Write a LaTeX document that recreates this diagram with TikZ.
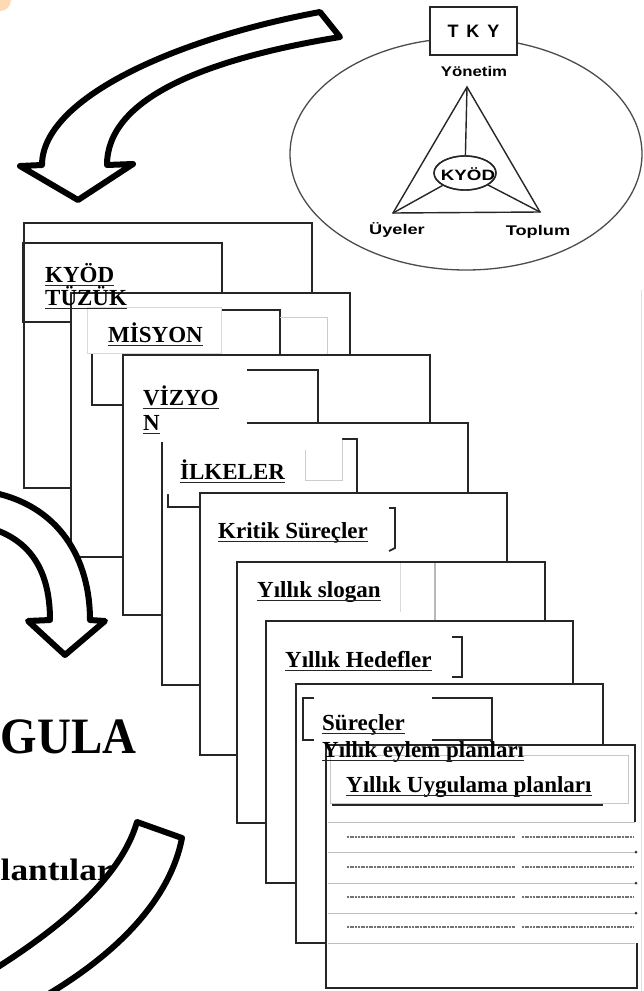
\documentclass[tikz,border=0pt]{standalone}
\usepackage{fontspec}
\setmainfont{Liberation Serif}
\newfontfamily\lsans{Liberation Sans}
\usepackage{graphicx}
\usetikzlibrary{shapes.geometric}

\tikzset{
  card/.style={fill=white, draw=black!85, line width=1.8pt},
  inbox/.style={draw=black!85, line width=1.8pt},
  wboxb/.style={fill=white, draw=gray!30, line width=0.8pt},
  faint/.style={draw=gray!40, line width=1pt},
  ttl/.style={inner sep=0pt, anchor=base west, font=\fontsize{23}{25}\selectfont\bfseries},
  ulin/.style={line width=1.5pt, black!85},
  bigarrow/.style={draw=black, fill=white, line width=6pt, line join=round},
  lbl/.style={inner sep=0pt, font=\fontsize{14}{16}\selectfont\lsans\bfseries},
  thin/.style={draw=black!85, line width=1.4pt},
  squig/.style={black!55, line width=2pt, dash pattern=on 2pt off 0.7pt},
}

\newcommand\ttlnode[3]{\node[ttl] (#1) at (#2) {#3};
  \draw[ulin] ([yshift=-3.5pt]#1.base west) -- ([yshift=-3.5pt]#1.base east);}

\begin{document}
\begin{tikzpicture}[x=1pt,y=-1pt]
\useasboundingbox (0,0) rectangle (644,991);
\fill[white] (0,0) rectangle (644,991);
\fill[orange!30] (0,0) circle (11pt);
\draw[gray!25, line width=1pt] (641,290) -- (641,991);

% ---------- TKY ellipse with triangle ----------
\draw[black!70, line width=1.3pt] (466,154) ellipse [x radius=176pt, y radius=116pt];
\node[draw=black!85, fill=white, line width=1.5pt, minimum width=87pt, minimum height=48pt, inner sep=0pt] (tky) at (473.5,31)
  {\fontsize{18}{18}\selectfont\lsans\bfseries T\hspace{8pt}K\hspace{8pt}Y};
\coordinate (yon) at (467,87);
\coordinate (uye) at (393,213);
\coordinate (top) at (540,212);
\node[lbl] (yonl) at (474,71) {\scalebox{1.2}[1]{Yönetim}};
\node[lbl] (uyel) at (397,230) {\scalebox{1.3}[1]{Üyeler}};
\node[lbl] (topl) at (538,232) {\scalebox{1.3}[1]{Toplum}};
\draw[thin] (yon) -- (uye) -- (top) -- cycle;
\node[ellipse, draw=black!85, fill=white, line width=1.4pt, minimum width=62pt, minimum height=34pt, inner sep=0pt] (kyod) at (465,173) {};
\begin{scope}
  \clip (465,173) ellipse [x radius=31pt, y radius=17pt];
  \node[lbl, font=\fontsize{15}{16}\selectfont\lsans\bfseries] (kyodt) at (468,174) {\scalebox{1.25}[1]{KYÖD}};
\end{scope}
\draw[thin] (kyod) ellipse [x radius=31pt, y radius=17pt];
\draw[thin] (yon) -- (kyod);
\draw[thin] (kyod) -- (uye);
\draw[thin] (kyod) -- (top);

% ---------- cards ----------
% card 1
\draw[card] (24,223) rectangle (312,488);
\draw[inbox] (23,243) rectangle (222,322);
% card 2
\draw[card] (71,293) rectangle (350,557);
\draw[inbox] (92,310) rectangle (280,405);
\draw[faint] (280,317) -- (327,317) -- (327,355);
\path[wboxb] (87,307) rectangle (221,353);
% card 3
\draw[card] (123,355) rectangle (430,615);
\draw[inbox] (135,370) rectangle (318,430);
% card 4
\draw[card] (162,423) rectangle (468,685);
\fill[white] (124.5,366) rectangle (247,442);
\draw[inbox] (168,439) rectangle (357,507);
\fill[white] (166,434) -- (342,434) -- (342,480) -- (305,480) -- (305,494) -- (166,494) -- cycle;
\draw[faint] (305,450) -- (305,480) -- (342,480) -- (342,440);
% card 5
\draw[card] (200,493) rectangle (507,755);
\draw[inbox] (389,508) -- (395,508) -- (395,548) -- (389,551);
% card 6
\draw[card] (237,562) rectangle (545,823);
\draw[gray!55, line width=1.3pt] (435,563) -- (435,621);
\draw[gray!30, line width=1pt] (400,563) -- (400,612);
% card 7
\draw[card] (266,621) rectangle (573,883);
\draw[inbox] (452,637) -- (462,637) -- (462,677) -- (452,677);
% card 8
\draw[card] (296,684) rectangle (603,943);
\draw[inbox] (303,698) rectangle (492,740);
\fill[white] (313.5,690) rectangle (432,743);
% card 9
\fill[white] (326,745) rectangle (636,988);
\draw[black!85, line width=1.8pt] (635,822) -- (635,745) -- (326,745) -- (326,988) -- (637,988) -- (637,943);
\draw[gray!45, line width=1pt] (330,755) rectangle (628,803);
\draw[black!85, line width=2.2pt] (332,805) -- (603,805);
\foreach \yy in {822,852,883,913,943} {\draw[gray!50, line width=1pt] (328,\yy) -- (635,\yy);}
\foreach \yy in {837,867,897,927} {
  \draw[squig] (347,\yy) -- (515,\yy);
  \draw[squig] (522,\yy) -- (633,\yy);}
\foreach \yy in {852,883,913} {\fill[black!80] (636,\yy) circle (1.5pt);}

% ---------- titles ----------
\ttlnode{t1}{45,282}{KYÖD}
\ttlnode{t2}{45,305}{TÜZÜK}
\ttlnode{t3}{108,342}{MİSYON}
\ttlnode{t4}{143,405}{VİZYO}
\ttlnode{t5}{143,430}{N}
\ttlnode{t6}{180,479}{İLKELER}
\ttlnode{t7}{218,538}{Kritik Süreçler}
\ttlnode{t8}{257,597}{Yıllık slogan}
\ttlnode{t9}{285,667}{Yıllık Hedefler}
\ttlnode{t10}{322,730}{Süreçler}
\ttlnode{t11}{322,757}{Yıllık eylem planları}
\ttlnode{t12}{346,792}{Yıllık Uygulama planları}

% ---------- left texts ----------
\node[inner sep=0pt, anchor=base west, font=\fontsize{51}{51}\selectfont\bfseries] (gula) at (0.5,753) {\scalebox{0.92}[1]{GULA}};
\node[inner sep=0pt, anchor=base west, font=\fontsize{31}{31}\selectfont\bfseries] (lant) at (0.5,880) {\scalebox{1.14}[1]{lantılar}};

% ---------- big arrows ----------
\draw[bigarrow] (320,12) .. controls (170,40) and (42,100) .. (42,165) -- (20,166) -- (78,200) -- (133,164) -- (107,165)
  .. controls (107,100) and (200,60) .. (340,37) -- cycle;
\draw[bigarrow] (-10,492) .. controls (60,505) and (90,560) .. (90,620) -- (105,621) -- (65,655) -- (28,621) -- (50,620)
  .. controls (50,570) and (30,540) .. (-10,528) -- cycle;
\draw[bigarrow] (-40,990) .. controls (55,935) and (120,880) .. (137,822) -- (182,838)
  .. controls (170,900) and (115,960) .. (20,1010) -- cycle;
\end{tikzpicture}
\end{document}
